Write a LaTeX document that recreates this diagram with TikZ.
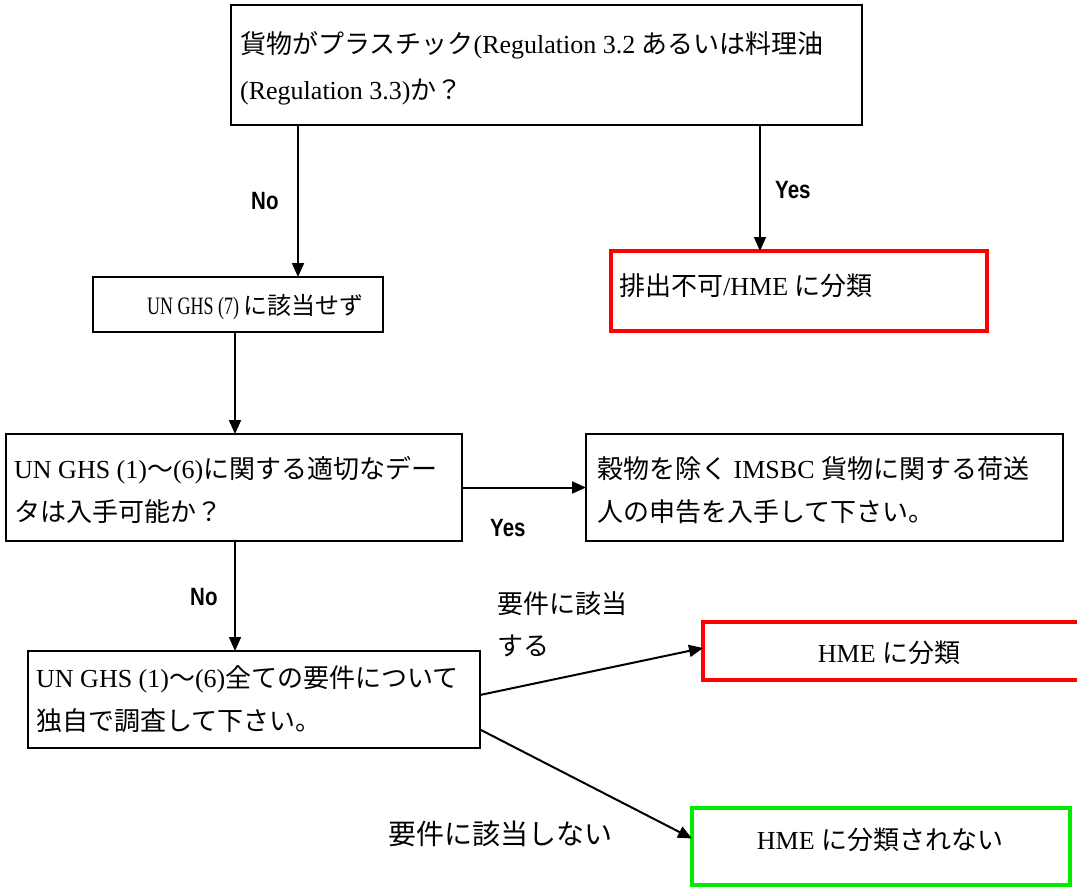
\documentclass[tikz,border=0pt]{standalone}
\usepackage{fontspec}
\setmainfont{Liberation Serif}
\newfontfamily\jp{Noto Sans CJK JP}
\newfontfamily\condlat[FakeStretch=0.72]{Liberation Serif}
\newfontfamily\lab[FakeStretch=0.82]{Liberation Sans}
\usetikzlibrary{arrows.meta}
\definecolor{boxred}{RGB}{255,0,0}
\definecolor{boxgreen}{RGB}{0,235,0}
\tikzset{
  box/.style={draw, line width=2.4pt, inner sep=0pt, outer sep=0pt, anchor=north west},
  redbox/.style={box, draw=boxred, line width=4pt},
  greenbox/.style={box, draw=boxgreen, line width=4pt},
  txt/.style={anchor=base west, inner sep=0pt, font=\fontsize{26}{26}\selectfont},
  ctxt/.style={anchor=center, inner sep=0pt, font=\fontsize{26}{26}\selectfont},
  yn/.style={anchor=base west, inner sep=0pt, font=\lab\bfseries\fontsize{25}{25}\selectfont},
  jlab/.style={anchor=base west, inner sep=0pt, font=\jp\fontsize{26}{26}\selectfont},
  arr/.style={-{Triangle[length=14pt,width=12pt]}, line width=2pt}
}
\begin{document}
\begin{tikzpicture}[x=1pt,y=-1pt]
\useasboundingbox (0,0) rectangle (1077,888);
% boxes
\node[box, minimum width=631pt, minimum height=120pt] (top) at (231,5) {};
\node[redbox, minimum width=376pt, minimum height=80pt] (red1) at (611,251) {};
\node[box, minimum width=290pt, minimum height=55pt] (box2) at (93,277) {};
\node[box, minimum width=456pt, minimum height=107pt] (box3) at (6,434) {};
\node[box, minimum width=477pt, minimum height=107pt] (box4) at (586,434) {};
\node[box, minimum width=452pt, minimum height=97pt] (box5) at (28,651) {};
\node[redbox, minimum width=380pt, minimum height=58pt] (red2) at (703,622) {};
\node[greenbox, minimum width=378pt, minimum height=77pt] (green) at (692,808) {};
% box texts
\node[txt] (t1a) at (240,54) {{\jp 貨物がプラスチック}(Regulation 3.2 {\jp あるいは料理油}};
\node[txt] (t1b) at (240,100) {(Regulation 3.3){\jp か？}};
\node[txt] (tr1) at (619,295) {{\jp 排出不可}/HME {\jp に分類}};
\node[txt] (t2) at (147,314) {{\condlat\fontsize{25}{25}\selectfont UN GHS (7) }{\jp\fontsize{24}{24}\selectfont に該当せず}};
\node[txt] (t3a) at (14,478) {UN GHS (1){\jp ～}(6){\jp に関する適切なデー}};
\node[txt] (t3b) at (14,521) {{\jp タは入手可能か？}};
\node[txt] (t4a) at (597,478) {{\jp 穀物を除く} IMSBC {\jp 貨物に関する荷送}};
\node[txt] (t4b) at (597,521) {{\jp 人の申告を入手して下さい。}};
\node[txt] (t5a) at (36,687) {UN GHS (1){\jp ～}(6){\jp 全ての要件について}};
\node[txt] (t5b) at (36,730) {{\jp 独自で調査して下さい。}};
\node[ctxt] (tr2) at (889,653) {HME {\jp に分類}};
\node[ctxt] (tg) at (880,840) {HME {\jp に分類されない}};
% x positions of vertical connectors
\coordinate (xL) at (298,0);
\coordinate (xR) at (760,0);
\coordinate (xM) at (235,0);
% connectors
\draw[arr] (top.south -| xL) -- (box2.north -| xL);
\draw[arr] (top.south -| xR) -- (red1.north -| xR);
\draw[arr] (box2.south -| xM) -- (box3.north -| xM);
\draw[arr] (box3.east) -- (box4.west);
\draw[arr] (box3.south -| xM) -- (box5.north -| xM);
\draw[arr] ([yshift=4.5pt]box5.east) -- ([yshift=3pt]red2.west);
\draw[arr] ([yshift=-30pt]box5.east) -- ([yshift=8pt]green.west);
% labels
\node[yn] (no1) at (251,209) {No};
\node[yn] (yes1) at (775,199) {Yes};
\node[yn] (yes2) at (490,536) {Yes};
\node[yn] (no2) at (190,605) {No};
\node[jlab] (l1a) at (497,613) {要件に該当};
\node[jlab] (l1b) at (497,655) {する};
\node[jlab, font=\jp\fontsize{28}{28}\selectfont] (l2) at (388,844) {要件に該当しない};
\end{tikzpicture}
\end{document}
